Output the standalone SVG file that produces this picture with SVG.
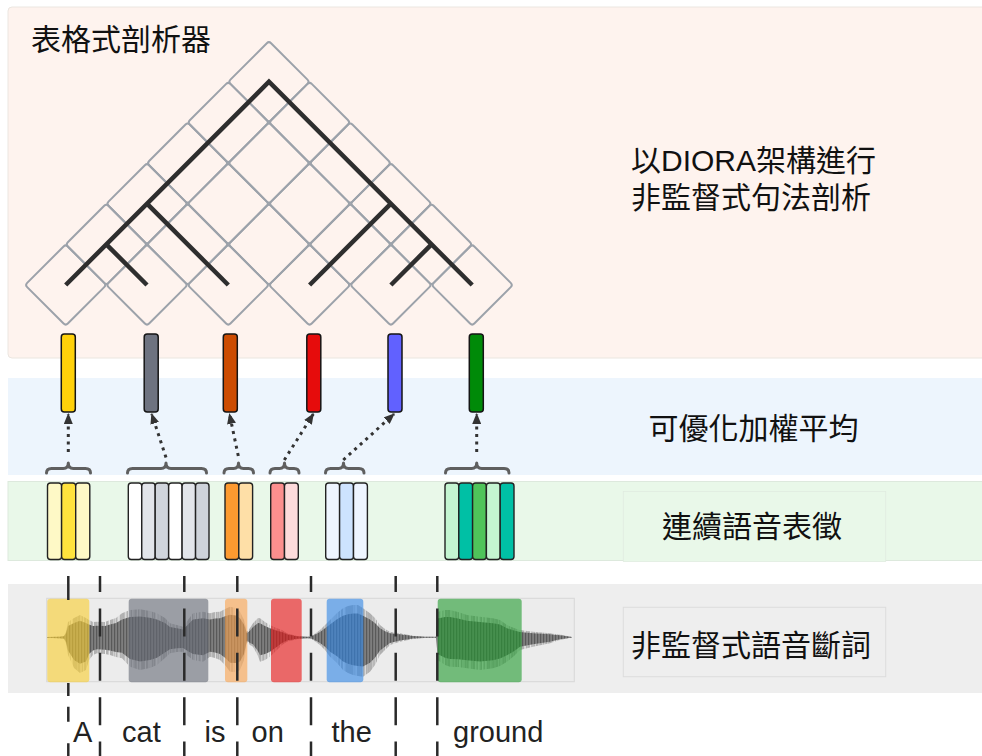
<svg xmlns="http://www.w3.org/2000/svg" width="982" height="756" viewBox="0 0 982 756">
<style>
text { font-family: "Liberation Sans", "Noto Sans CJK TC", sans-serif; fill: #111; }
.lbl { font-size: 30px; }
.word { font-size: 29px; fill: #222; }
.cell { fill: none; stroke: #9ca2aa; stroke-width: 2; }
.tree { stroke: #2e2e2e; stroke-width: 4.5; fill: none; stroke-linecap: butt; }
.vec { stroke: #151515; stroke-width: 1.5; }
.feat { stroke: #222; stroke-width: 1.4; }
.arr { stroke: #333; stroke-width: 3; stroke-dasharray: 3 4.5; fill: none; marker-end: url(#ah); }
.brace { stroke: #5f5f5f; stroke-width: 3; fill: none; stroke-linecap: round; stroke-linejoin: round; }
.cut { stroke: #2a2a2a; stroke-width: 2.5; stroke-dasharray: 28 16.4; stroke-dashoffset: 12; }
.hl { opacity: 0.6; }
</style>
<defs>
<marker id="ah" viewBox="0 0 10 10" refX="9" refY="5" markerWidth="11" markerHeight="9" markerUnits="userSpaceOnUse" orient="auto" preserveAspectRatio="none"><path d="M0,0 L10,5 L0,10 z" fill="#333"/></marker>
<rect id="d" class="cell" x="-28.74" y="-28.74" width="57.49" height="57.49" rx="3" transform="rotate(45)"/>
<pattern id="wv" width="3" height="4" patternUnits="userSpaceOnUse"><rect width="3" height="4" fill="#7e7e7e"/><rect width="1.2" height="4" fill="#595959"/></pattern>
<filter id="str" x="-2%" y="-10%" width="104%" height="120%">
<feTurbulence type="fractalNoise" baseFrequency="0.9 0.001" numOctaves="2" seed="7" result="n"/>
<feColorMatrix in="n" type="matrix" values="0 0 0 0 0.43  0 0 0 0 0.43  0 0 0 0 0.43  3.2 0 0 0 -0.8" result="m"/>
<feComposite in="m" in2="SourceGraphic" operator="in"/>
</filter>
<polygon id="env" points="47,637 60,636.5 64,636 66,632 68,622 74,618 80,615 86,618 89,620 93,622 97,621.7 105,622 110,620 116,618 122,613.3 130,610 140,609.3 150,611 157,613.3 165,618 170,623.3 177,625 183,626.7 188,620 193,613.3 203,611.7 210,613.3 215,612 220,611.7 225,609 230,606.7 236,608 240,611.7 244,620 247,631.7 250,628 253,623.3 258,618 260,618.3 265,622 270,625 277,628.3 282,630 287,633.3 297,636 305,636.5 310,636.5 313,635 320,630 325,625 330,620 337,613 343,608.3 348,606 353,605 358,605 363,608.3 370,613.3 375,618 380,625 385,629 390,631.7 400,633.3 413,635.7 425,636.7 436,636.7 437.5,612 445,610 450,610 458,612 467,615 480,616.7 493,618.3 500,620 507,625 514,628 520,630 533,631.7 550,633.3 560,634.5 567,636 572,637 572,637.5 567,638.5 560,640 550,643.3 533,646.7 520,650 514,656 507,661.7 500,666 493,668.3 480,670 467,668.3 458,667 450,666.7 445,665 437.5,660 436,638 425,638 413,639 400,641.7 390,645 385,650 380,655 375,665 370,671.7 363,676.7 358,676 353,675 348,673 343,670 337,663 330,656.7 325,650 320,645 313,640 310,638.5 305,638.5 297,639.3 287,641.7 282,645 277,650 270,656.7 265,660 260,661.7 258,656 253,646.7 250,645 247,641.7 244,660 240,670 236,672 230,671.7 225,665 220,660 215,658 210,656.7 203,661.7 193,660 188,656 183,651.7 177,652 170,653.3 165,658 157,665 150,668 140,670 130,666.7 122,658.3 116,657 110,655 105,654 97,653.3 93,655 89,660 86,670 80,673 74,668 68,655 66,643 64,639 60,638.5 47,638"/>
</defs>

<g id="panels">
<rect x="8" y="7" width="980" height="351" rx="4" fill="#fef3ee" stroke="#ebe6e0" stroke-width="1"/>
<rect x="8" y="378" width="980" height="97" fill="#edf5fd"/>
<rect x="8" y="481.5" width="980" height="79" fill="#e9f8e9" stroke="#dde9dd" stroke-width="1"/>
<rect x="8" y="584" width="980" height="109" fill="#eeeeee"/>
</g>

<g id="chart-title"><text class="lbl" x="31" y="49.5">表格式剖析器</text></g>

<g id="chart">
<use href="#d" x="65.7" y="285"/><use href="#d" x="147" y="285"/><use href="#d" x="228.3" y="285"/><use href="#d" x="309.6" y="285"/><use href="#d" x="390.9" y="285"/><use href="#d" x="472.2" y="285"/>
<use href="#d" x="106.35" y="244.35"/><use href="#d" x="187.65" y="244.35"/><use href="#d" x="268.95" y="244.35"/><use href="#d" x="350.25" y="244.35"/><use href="#d" x="431.55" y="244.35"/>
<use href="#d" x="147" y="203.7"/><use href="#d" x="228.3" y="203.7"/><use href="#d" x="309.6" y="203.7"/><use href="#d" x="390.9" y="203.7"/>
<use href="#d" x="187.65" y="163.05"/><use href="#d" x="268.95" y="163.05"/><use href="#d" x="350.25" y="163.05"/>
<use href="#d" x="228.3" y="122.4"/><use href="#d" x="309.6" y="122.4"/>
<use href="#d" x="268.95" y="81.75"/>
</g>

<g id="tree">
<path class="tree" d="M65.7,285 L268.95,81.75 L472.2,285"/>
<path class="tree" d="M106.35,244.35 L147,285"/>
<path class="tree" d="M147,203.7 L228.3,285"/>
<path class="tree" d="M390.9,203.7 L309.6,285"/>
<path class="tree" d="M431.55,244.35 L390.9,285"/>
</g>

<g id="parser-label">
<text class="lbl" x="631" y="171">以DIORA架構進行</text>
<text class="lbl" x="631" y="208">非監督式句法剖析</text>
</g>

<g id="word-vectors">
<rect class="vec" x="61.3" y="334" width="14" height="78" rx="3" fill="#ffd10a"/>
<rect class="vec" x="144.2" y="334" width="14" height="78" rx="3" fill="#6e7380"/>
<rect class="vec" x="223.3" y="334" width="14" height="78" rx="3" fill="#cc4c02"/>
<rect class="vec" x="306.8" y="334" width="14" height="78" rx="3" fill="#e60c0c"/>
<rect class="vec" x="388" y="334" width="14" height="78" rx="3" fill="#6161ff"/>
<rect class="vec" x="469.3" y="334" width="14" height="78" rx="3" fill="#008a08"/>
</g>

<g id="pool-label"><text class="lbl" x="648.5" y="439">可優化加權平均</text></g>

<g id="connectors">
<path class="arr" d="M68.3,452 L68.3,414"/>
<path class="arr" d="M166,457.5 L151.7,414"/>
<path class="arr" d="M238.3,456 L229.5,414"/>
<path class="arr" d="M284.3,460 L313.3,414"/>
<path class="arr" d="M343.3,460 L394,414"/>
<path class="arr" d="M476.7,452 L476.7,414"/>
<path class="brace" d="M46.5,473 Q46.5,468.5 51.5,468.5 L63.3,468.5 Q68.3,468.5 68.3,463 Q68.3,468.5 73.3,468.5 L85.5,468.5 Q90.5,468.5 90.5,473"/>
<path class="brace" d="M127.5,473 Q127.5,468.5 132.5,468.5 L161,468.5 Q166,468.5 166,463 Q166,468.5 171,468.5 L201.5,468.5 Q206.5,468.5 206.5,473"/>
<path class="brace" d="M224,473 Q224,468.5 229,468.5 L233.5,468.5 Q238.5,468.5 238.5,463 Q238.5,468.5 243.5,468.5 L248.5,468.5 Q253.5,468.5 253.5,473"/>
<path class="brace" d="M270,473 Q270,468.5 275,468.5 L279.5,468.5 Q284.5,468.5 284.5,463 Q284.5,468.5 289.5,468.5 L294,468.5 Q299,468.5 299,473"/>
<path class="brace" d="M325.5,473 Q325.5,468.5 330.5,468.5 L338.5,468.5 Q343.5,468.5 343.5,463 Q343.5,468.5 348.5,468.5 L359,468.5 Q364,468.5 364,473"/>
<path class="brace" d="M445.5,473 Q445.5,468.5 450.5,468.5 L471.7,468.5 Q476.7,468.5 476.7,463 Q476.7,468.5 481.7,468.5 L504,468.5 Q509,468.5 509,473"/>
</g>

<g id="frame-features">
<rect class="feat" x="47.5" y="483" width="14.1" height="76.5" rx="3" fill="#fef9c6"/>
<rect class="feat" x="61.6" y="483" width="14.1" height="76.5" rx="3" fill="#ffe33d"/>
<rect class="feat" x="75.7" y="483" width="14.1" height="76.5" rx="3" fill="#fef9c6"/>
<rect class="feat" x="128.3" y="483" width="13.45" height="76.5" rx="3" fill="#ffffff"/>
<rect class="feat" x="141.75" y="483" width="13.45" height="76.5" rx="3" fill="#e2e5ea"/>
<rect class="feat" x="155.2" y="483" width="13.45" height="76.5" rx="3" fill="#d0d5dc"/>
<rect class="feat" x="168.65" y="483" width="13.45" height="76.5" rx="3" fill="#ffffff"/>
<rect class="feat" x="182.1" y="483" width="13.45" height="76.5" rx="3" fill="#e2e5ea"/>
<rect class="feat" x="195.55" y="483" width="13.45" height="76.5" rx="3" fill="#ced3da"/>
<rect class="feat" x="225" y="483" width="13.8" height="76.5" rx="3" fill="#fd9a30"/>
<rect class="feat" x="238.8" y="483" width="13.8" height="76.5" rx="3" fill="#fedfa7"/>
<rect class="feat" x="270.7" y="483" width="13.8" height="76.5" rx="3" fill="#fc8f8e"/>
<rect class="feat" x="284.5" y="483" width="13.8" height="76.5" rx="3" fill="#fddbdb"/>
<rect class="feat" x="325.7" y="483" width="13.9" height="76.5" rx="3" fill="#eef5ff"/>
<rect class="feat" x="339.6" y="483" width="13.9" height="76.5" rx="3" fill="#cde3fe"/>
<rect class="feat" x="353.5" y="483" width="13.9" height="76.5" rx="3" fill="#eef5ff"/>
<rect class="feat" x="445" y="483" width="13.8" height="76.5" rx="3" fill="#c4f5d1"/>
<rect class="feat" x="458.8" y="483" width="13.8" height="76.5" rx="3" fill="#00c0a5"/>
<rect class="feat" x="472.6" y="483" width="13.8" height="76.5" rx="3" fill="#4fc45a"/>
<rect class="feat" x="486.4" y="483" width="13.8" height="76.5" rx="3" fill="#c4f5d1"/>
<rect class="feat" x="500.2" y="483" width="13.8" height="76.5" rx="3" fill="#00c0a5"/>
</g>

<g id="feature-label">
<rect x="623.3" y="491.5" width="262.4" height="70" fill="#e9f8e9" stroke="#e0ebe0" stroke-width="0.8"/>
<text class="lbl" x="662" y="536.5">連續語音表徵</text>
</g>

<g id="waveform">
<rect x="46.7" y="598.3" width="527.6" height="83.4" fill="#ececec" stroke="#d8d8d8" stroke-width="1"/>
<use href="#env" fill="#000" filter="url(#str)"/>
<use href="#env" fill="url(#wv)" transform="translate(0,637.3) scale(1,0.74) translate(0,-637.3)"/>
</g>

<g id="segments">
<rect class="hl" x="47.3" y="598.8" width="42" height="83.4" rx="3" fill="#facf2f"/>
<rect class="hl" x="128.7" y="598.8" width="79.6" height="83.4" rx="3" fill="#666b76"/>
<rect class="hl" x="225" y="598.8" width="22.3" height="83.4" rx="3" fill="#fca34d"/>
<rect class="hl" x="271" y="598.8" width="30.7" height="83.4" rx="3" fill="#e91111"/>
<rect class="hl" x="326.7" y="598.8" width="36.6" height="83.4" rx="3" fill="#2f85e6"/>
<rect class="hl" x="437.7" y="598.8" width="84" height="83.4" rx="3" fill="#219b2f"/>
</g>

<g id="boundaries">
<line x1="68.3" y1="576" x2="68.3" y2="756" stroke="#2a2a2a" stroke-width="2.5" stroke-dasharray="24 83 13 10.7 15 21.6 13 30"/>
<line class="cut" x1="100" y1="576" x2="100" y2="756"/>
<line class="cut" x1="184.3" y1="576" x2="184.3" y2="756"/>
<line class="cut" x1="237.3" y1="576" x2="237.3" y2="756"/>
<line class="cut" x1="311" y1="576" x2="311" y2="756"/>
<line class="cut" x1="395.7" y1="576" x2="395.7" y2="756"/>
<line class="cut" x1="437.3" y1="576" x2="437.3" y2="756"/>
</g>

<g id="segment-label">
<rect x="623.3" y="607.3" width="262.4" height="69.4" fill="#eeeeee" stroke="#dcdcdc" stroke-width="1"/>
<text class="lbl" x="631" y="655.5">非監督式語音斷詞</text>
</g>

<g id="words">
<text class="word" x="73" y="742">A</text>
<text class="word" x="122" y="742">cat</text>
<text class="word" x="204.5" y="742">is</text>
<text class="word" x="251.5" y="742">on</text>
<text class="word" x="331.5" y="742">the</text>
<text class="word" x="453" y="742">ground</text>
</g>
</svg>
